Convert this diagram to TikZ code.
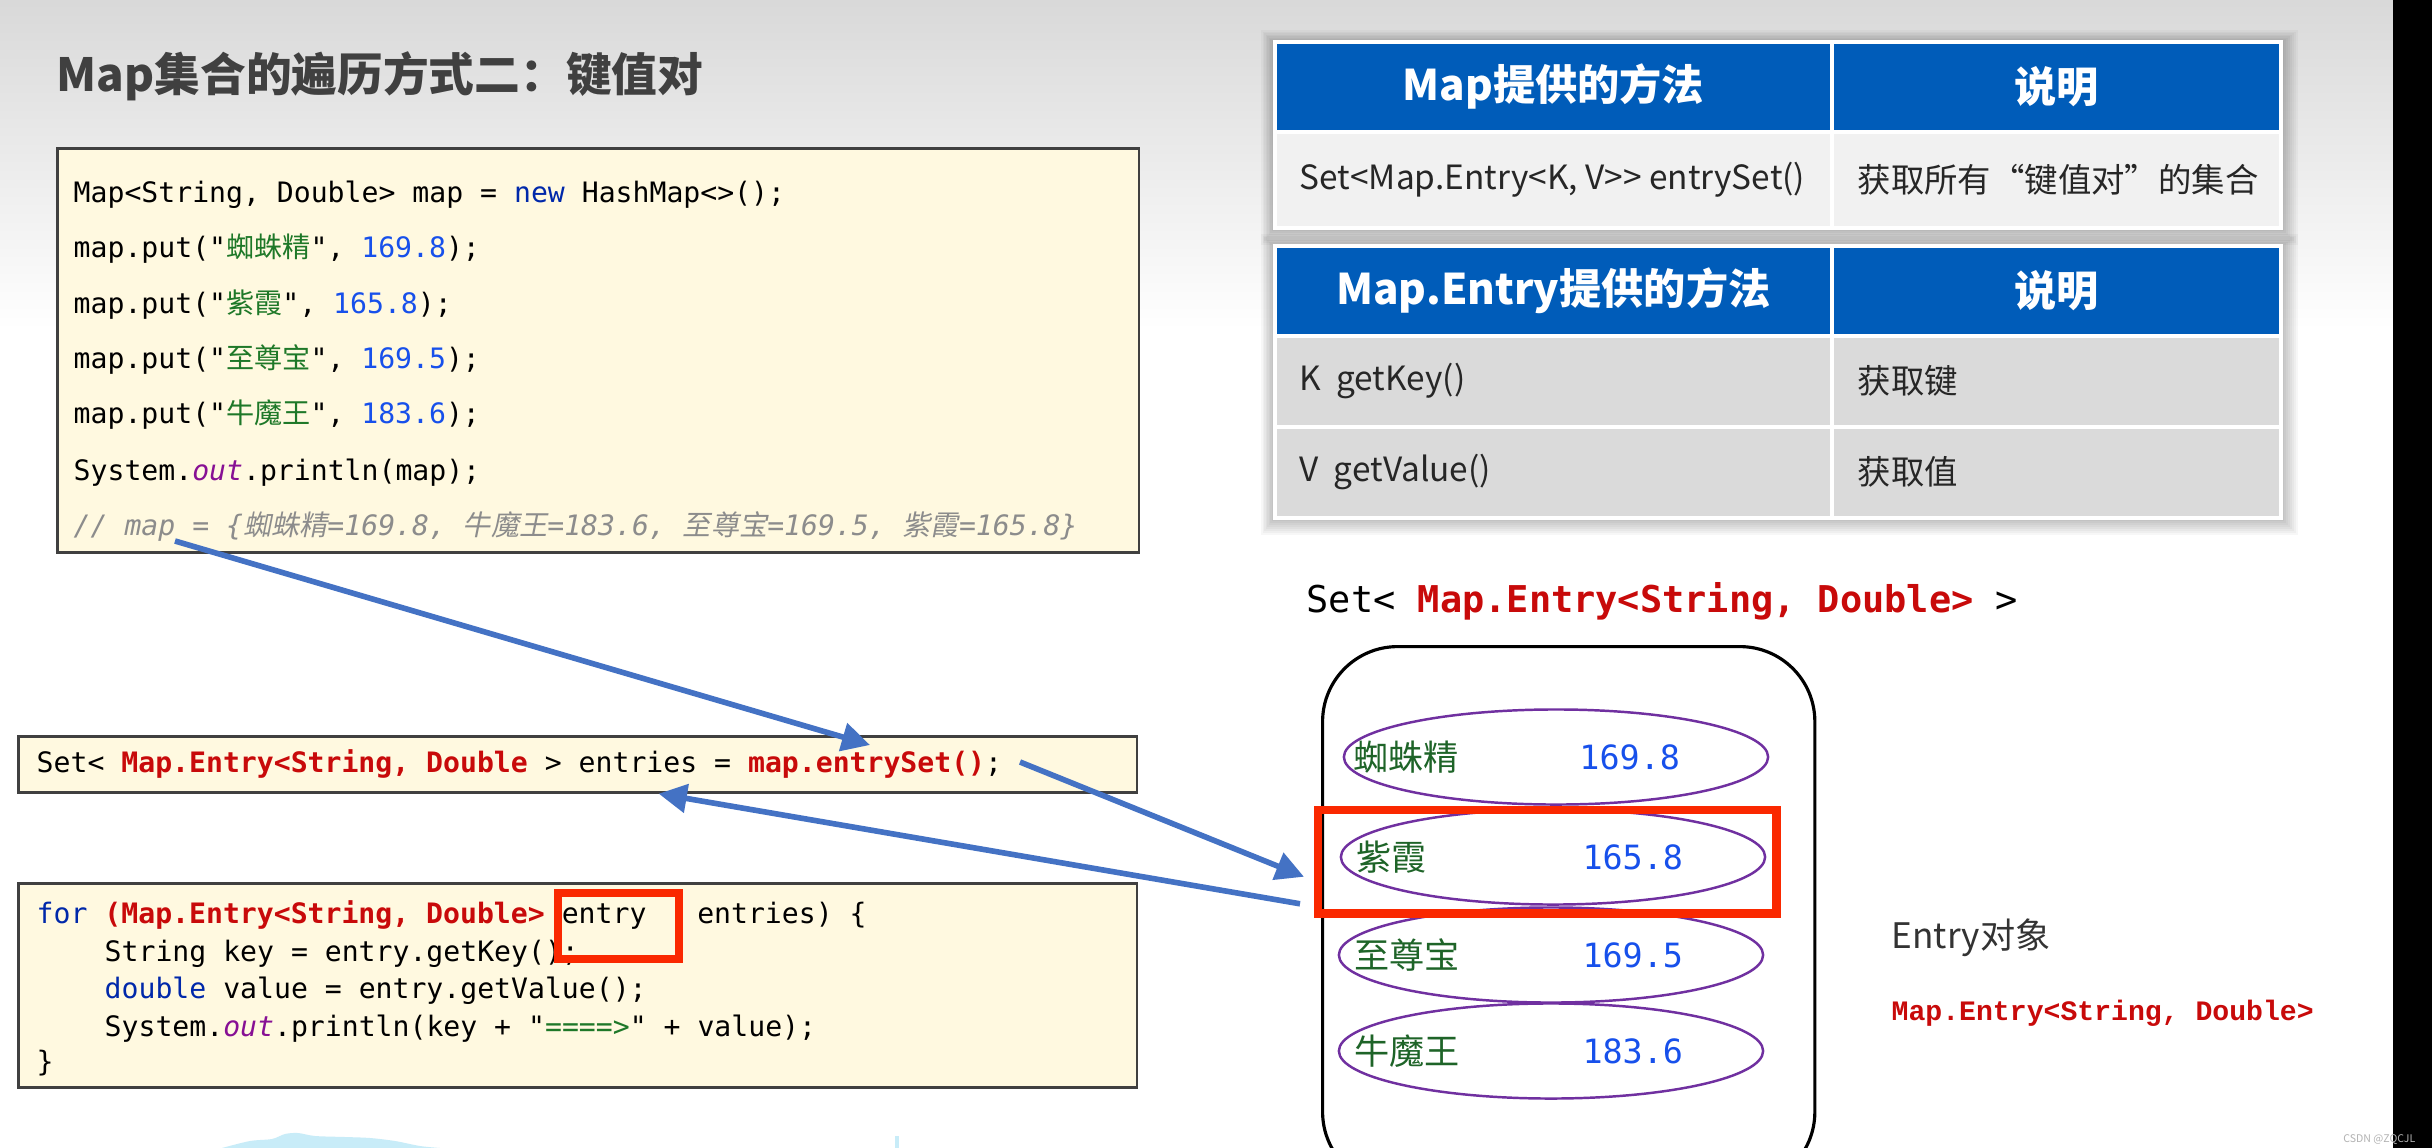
\documentclass[tikz,border=0pt]{standalone}
\usepackage{fontspec}
\setmainfont{Noto Sans CJK SC}
\setmonofont{DejaVu Sans Mono}
\newfontfamily\cjk{Noto Sans CJK SC}
\newfontfamily\cjkslant[FakeSlant=0.2]{Noto Sans CJK SC}
\newfontfamily\courfont{Liberation Mono}
\usepackage{tikz}
\usetikzlibrary{positioning,arrows.meta,shapes.geometric}
\usepackage{xcolor}
\definecolor{titlegray}{RGB}{64,64,64}
\definecolor{hdrblue}{RGB}{0,92,185}
\definecolor{rowlight}{RGB}{241,241,241}
\definecolor{rowgray}{RGB}{218,218,218}
\definecolor{codebg}{RGB}{255,249,224}
\definecolor{codeframe}{RGB}{64,64,64}
\definecolor{kwblue}{RGB}{0,40,170}
\definecolor{numblue}{RGB}{23,80,235}
\definecolor{strgreen}{RGB}{30,120,40}
\definecolor{fieldpurple}{RGB}{135,16,148}
\definecolor{cmtgray}{RGB}{140,140,140}
\definecolor{typred}{RGB}{200,10,10}
\definecolor{hlred}{RGB}{250,40,0}
\definecolor{ovalpurple}{RGB}{112,48,160}
\definecolor{arrowblue}{RGB}{68,114,196}
\definecolor{namegreen}{RGB}{30,100,40}
\definecolor{skyblob}{RGB}{200,236,248}

\newcommand{\kwd}[1]{\textcolor{kwblue}{#1}}
\newcommand{\numlit}[1]{\textcolor{numblue}{#1}}
\newcommand{\strlit}[1]{\textcolor{strgreen}{#1}}
\newcommand{\hanzi}[1]{{\cjk #1}}
\newcommand{\hanzisl}[1]{{\cjkslant #1}}
\newcommand{\typred}[1]{\textcolor{typred}{\bfseries #1}}
\newcommand{\fieldout}[1]{\textcolor{fieldpurple}{\itshape #1}}

\tikzset{
  codebox/.style={draw=codeframe, fill=codebg, line width=0.75pt, anchor=north west, inner sep=0pt},
  codeline/.style={anchor=base west, inner sep=0pt, font=\ttfamily\fontsize{8}{10}\selectfont},
  hdrcell/.style={fill=hdrblue, draw=white, line width=1pt, anchor=north west, minimum height=0.9cm,
    text=white, font=\bfseries\fontsize{12}{14}\selectfont},
  bodycell/.style={draw=white, line width=1pt, anchor=north west, inner sep=0pt},
  celltext/.style={inner sep=0pt, font=\fontsize{9.5}{11}\selectfont, text=black!85},
  entryoval/.style={ellipse, draw=ovalpurple, line width=0.7pt, minimum width=4.24cm, minimum height=0.95cm},
  ovalname/.style={inner sep=0pt, text=namegreen, font=\fontsize{10}{12}\selectfont},
  ovalnum/.style={inner sep=0pt, text=numblue, font=\ttfamily\fontsize{9.5}{11}\selectfont},
  hlbox/.style={draw=hlred, line width=2.4pt, anchor=north west, inner sep=0pt},
  flow/.style={-{Triangle[length=8pt,width=8pt]}, draw=arrowblue, line width=1.6pt},
}

\begin{document}
\begin{tikzpicture}[x=0.01cm, y=-0.01cm]
  \useasboundingbox (0,0) rectangle (2432,1148);
  \fill[white] (0,0) rectangle (2432,1148);
  \shade[top color=gray!30, bottom color=white] (0,0) rectangle (2393,330);

  % title
  \node[anchor=west, inner sep=0pt, text=titlegray, font=\bfseries\fontsize{13}{16}\selectfont] (title) at (56,76) {Map集合的遍历方式二：键值对};

  % shadows of the two tables
  \foreach \s in {1,...,8} {
    \fill[black, opacity=0.03] ({1273-1.5*\s}, {40-1.5*\s+2}) rectangle ({2279+2*\s+3}, {226+2*\s+3});
    \fill[black, opacity=0.03] ({1273-1.5*\s}, {244-1.5*\s+2}) rectangle ({2279+2*\s+3}, {516+2*\s+3});
  }

  % table: Map methods
  \node[hdrcell, minimum width=5.57cm] (maphdr) at (1273,40) {Map提供的方法};
  \node[hdrcell, minimum width=4.49cm] (maphdrb) at (1830,40) {说明};
  \node[bodycell, fill=rowlight, minimum width=5.57cm, minimum height=0.96cm] (maprow) at (1273,130) {};
  \node[bodycell, fill=rowlight, minimum width=4.49cm, minimum height=0.96cm] (maprowb) at (1830,130) {};
  \node[celltext, right=0.26cm of maprow.west] (maprowtxt) {Set<Map.Entry<K, V>{}> entrySet()};
  \node[celltext, right=0.27cm of maprowb.west] (maprowbtxt) {获取所有“键值对”的集合};

  % table: Map.Entry methods
  \node[hdrcell, minimum width=5.57cm] (enthdr) at (1273,244) {Map.Entry提供的方法};
  \node[hdrcell, minimum width=4.49cm] (enthdrb) at (1830,244) {说明};
  \node[bodycell, fill=rowgray, minimum width=5.57cm, minimum height=0.91cm] (keyrow) at (1273,334) {};
  \node[bodycell, fill=rowgray, minimum width=4.49cm, minimum height=0.91cm] (keyrowb) at (1830,334) {};
  \node[bodycell, fill=rowgray, minimum width=5.57cm, minimum height=0.91cm] (valrow) at (1273,425) {};
  \node[bodycell, fill=rowgray, minimum width=4.49cm, minimum height=0.91cm] (valrowb) at (1830,425) {};
  \node[celltext, right=0.26cm of keyrow.west] (keytxt) {K\ \ getKey()};
  \node[celltext, right=0.27cm of keyrowb.west] (keybtxt) {获取键};
  \node[celltext, right=0.26cm of valrow.west] (valtxt) {V\ \ getValue()};
  \node[celltext, right=0.27cm of valrowb.west] (valbtxt) {获取值};

  % code: filling the map
  \node[codebox, minimum width=10.81cm, minimum height=4.04cm] (mapbox) at (56,147) {};
  \node[codeline] (l1) at (73,202) {Map<String, Double> map = \kwd{new} HashMap<>();};
  \node[codeline] (l2) at (73,257) {map.put("\strlit{\hanzi{蜘蛛精}}", \numlit{169.8});};
  \node[codeline] (l3) at (73,313) {map.put("\strlit{\hanzi{紫霞}}", \numlit{165.8});};
  \node[codeline] (l4) at (73,368) {map.put("\strlit{\hanzi{至尊宝}}", \numlit{169.5});};
  \node[codeline] (l5) at (73,423) {map.put("\strlit{\hanzi{牛魔王}}", \numlit{183.6});};
  \node[codeline] (l6) at (73,480) {System.\fieldout{out}.println(map);};
  \node[codeline, text=cmtgray, font=\ttfamily\itshape\fontsize{8}{10}\selectfont] (l7) at (73,535)
    {// map = \{\hanzisl{蜘蛛精}=169.8,\ \hanzisl{牛魔王}=183.6,\ \hanzisl{至尊宝}=169.5,\ \hanzisl{紫霞}=165.8\}};

  % code: entrySet
  \node[codebox, minimum width=11.18cm, minimum height=0.56cm] (setbox) at (17,735) {};
  \node[codeline] (setline) at (36,772) {Set< \typred{Map.Entry<String, Double} > entries = \typred{map.entrySet()};};

  % code: for loop
  \node[codebox, minimum width=11.18cm, minimum height=2.04cm] (forbox) at (17,882) {};
  \node[codeline] (f1) at (36,923) {\kwd{for} \typred{(Map.Entry<String, Double>} entry\ \ \ entries) \{};
  \node[codeline] (f2) at (104,961) {String key = entry.getKey();};
  \node[codeline] (f3) at (104,998) {\kwd{double} value = entry.getValue();};
  \node[codeline] (f4) at (104,1036) {System.\fieldout{out}.println(key + "\strlit{====>}" + value);};
  \node[codeline] (f5) at (36,1071) {\}};
  \node[hlbox, minimum width=1.21cm, minimum height=0.66cm, line width=2.2pt] (entrybox) at (554,889) {};

  % the set of entries
  \node[anchor=base west, inner sep=0pt, font=\ttfamily\fontsize{10.5}{12}\selectfont] (settitle) at (1306,612)
    {Set< \typred{Map.Entry<String, Double>} >};
  \node[draw, line width=0.9pt, rounded corners=0.75cm, anchor=north west, minimum width=4.92cm, minimum height=5.4cm] (entryset) at (1321,645) {};

  \node[entryoval] (e1) at (1556,757) {};
  \node[entryoval] (e2) at (1553,857) {};
  \node[entryoval] (e3) at (1551,955) {};
  \node[entryoval] (e4) at (1551,1051) {};
  \node[ovalname, right=0.1cm of e1.west] (n1) {蜘蛛精};
  \node[ovalnum, right=2.36cm of e1.west] (v1) {169.8};
  \node[ovalname, right=0.16cm of e2.west] (n2) {紫霞};
  \node[ovalnum, right=2.42cm of e2.west] (v2) {165.8};
  \node[ovalname, right=0.16cm of e3.west] (n3) {至尊宝};
  \node[ovalnum, right=2.44cm of e3.west] (v3) {169.5};
  \node[ovalname, right=0.16cm of e4.west] (n4) {牛魔王};
  \node[ovalnum, right=2.44cm of e4.west] (v4) {183.6};
  \node[hlbox, minimum width=4.58cm, minimum height=1.03cm] (selbox) at (1314,806) {};

  \node[anchor=west, inner sep=0pt, text=black!80, font=\fontsize{10}{12}\selectfont] (entrylabel) at (1891,938) {Entry对象};
  \node[anchor=base west, inner sep=0pt, text=typred, font=\courfont\bfseries\fontsize{8}{10}\selectfont] (entrytype) at (1891,1020)
    {Map.Entry<String, Double>};

  % connectors
  \coordinate (mapref) at (175,541);
  \coordinate (entrysetref) at (870,745);
  \coordinate (setout) at (1020,762);
  \draw[flow] (mapref) -- (entrysetref);
  \draw[flow] (setout) -- ([xshift=-0.1cm, yshift=-0.15cm]selbox.west);
  \draw[flow] ([xshift=-0.14cm, yshift=-0.42cm]selbox.west) -- ([xshift=0.81cm]setbox.south);

  % screen edge, watermark and stray marks
  \fill[black] (2393,0) rectangle (2432,1148);
  \node[anchor=east, inner sep=0pt, text=gray!60, font=\fontsize{3}{4}\selectfont] (mark) at (2416,1140) {CSDN @ZQCJL};
  \fill[skyblob] plot[smooth] coordinates {(222,1148) (250,1141) (272,1139) (285,1134) (298,1133) (315,1136) (345,1137) (370,1138) (395,1141) (420,1146) (440,1148)} -- cycle;
  \draw[skyblob, line width=1.2pt] (897,1136) -- (897,1148);
\end{tikzpicture}
\end{document}
